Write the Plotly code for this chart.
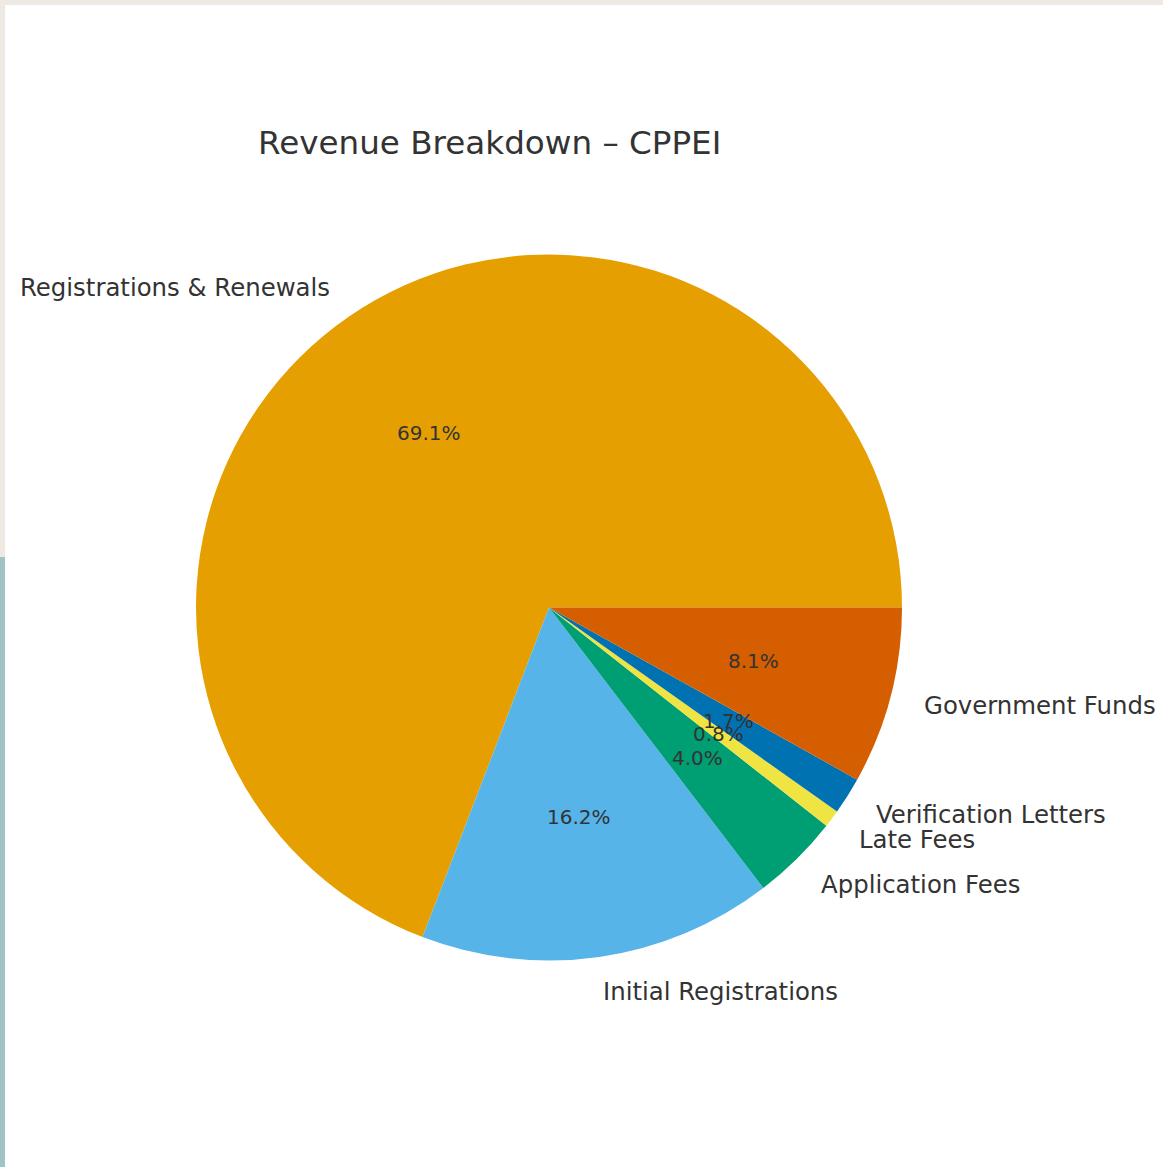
import math
import plotly.graph_objects as go

# ---- data ----
categories = ["Registrations & Renewals", "Initial Registrations", "Application Fees",
              "Late Fees", "Verification Letters", "Government Funds"]
shares = [69.1, 16.2, 4.0, 0.8, 1.7, 8.1]
colors = ["#E69F00", "#56B4E9", "#009E73", "#F0E442", "#0072B2", "#D55E00"]
title_text = "Revenue Breakdown – CPPEI"

# ---- layout constants (pixels) ----
W, H = 1163, 1167
CX, CY, R = 549, 607.5, 353
TXT = "#333333"
FONT = "DejaVu Sans"

def px_x(x):
    return x / W

def px_y(y):
    return 1 - y / H

total = sum(shares)
# plotly (counterclockwise) lays the first slice clockwise from `rotation`;
# make the first slice start at 3 o'clock and run counterclockwise like matplotlib
rotation = 90 - shares[0] / total * 360

fig = go.Figure()
fig.add_trace(go.Pie(
    labels=categories, values=shares,
    marker=dict(colors=colors, line=dict(width=0)),
    sort=False, direction="counterclockwise", rotation=rotation,
    textinfo="none", showlegend=False,
    domain=dict(x=[px_x(CX - R), px_x(CX + R)], y=[px_y(CY + R), px_y(CY - R)]),
))

annotations = []
cum = 0.0
for cat, v in zip(categories, shares):
    mid = (cum + v / 2) / total * 2 * math.pi
    cum += v
    c, s = math.cos(mid), math.sin(mid)
    lx, ly = CX + 1.1 * R * c, CY - 1.1 * R * s
    annotations.append(dict(
        x=px_x(lx), y=px_y(ly), xref="paper", yref="paper",
        text=cat, showarrow=False, xanchor="left" if c > 0 else "right",
        xshift=-3 if c > 0 else 3,
        yanchor="middle", font=dict(family=FONT, size=24.4, color=TXT),
    ))
    tx, ty = CX + 0.6 * R * c, CY - 0.6 * R * s
    annotations.append(dict(
        x=px_x(tx), y=px_y(ty), xref="paper", yref="paper",
        text=f"{v:.1f}%", showarrow=False, xanchor="center",
        yanchor="middle", font=dict(family=FONT, size=20, color=TXT),
    ))

annotations.append(dict(
    x=px_x(489.5), y=px_y(143), xref="paper", yref="paper", text=title_text,
    showarrow=False, xanchor="center", yanchor="middle",
    font=dict(family=FONT, size=32.6, color=TXT),
))

shapes = [
    dict(type="rect", xref="paper", yref="paper", x0=0, x1=1, y0=px_y(5), y1=1,
         fillcolor="#EEE9E2", line=dict(width=0), layer="below"),
    dict(type="rect", xref="paper", yref="paper", x0=0, x1=px_x(5), y0=px_y(557), y1=1,
         fillcolor="#EEE9E2", line=dict(width=0), layer="below"),
    dict(type="rect", xref="paper", yref="paper", x0=0, x1=px_x(5), y0=0, y1=px_y(557),
         fillcolor="#9EC4C4", line=dict(width=0), layer="below"),
]

fig.update_layout(
    width=W, height=H, margin=dict(l=0, r=0, t=0, b=0),
    paper_bgcolor="white", plot_bgcolor="white",
    annotations=annotations, shapes=shapes,
    font=dict(family=FONT, color=TXT),
)

fig.write_html("out.html", config={"displayModeBar": False},
               post_script="document.body.style.margin='0';document.body.style.overflow='hidden';")
